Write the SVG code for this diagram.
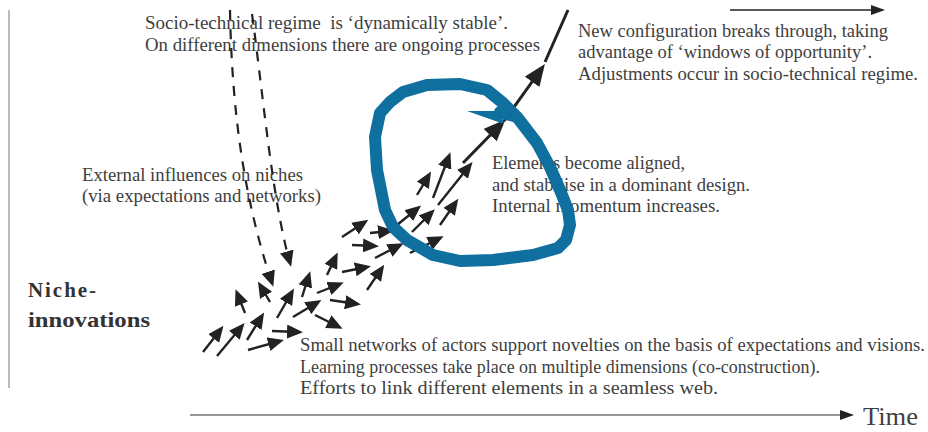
<svg xmlns="http://www.w3.org/2000/svg" width="928" height="432" viewBox="0 0 928 432">
<style>
  .t { font-family: "Liberation Serif", "Times New Roman", serif; font-size: 18px; fill: #404040; }
  .b { font-family: "Liberation Serif", "Times New Roman", serif; font-size: 21px; font-weight: bold; fill: #333; }
  .sa { stroke: #222; stroke-width: 2.4; fill: none; marker-end: url(#ah); }
  .ba { stroke: #222; stroke-width: 3; fill: none; marker-end: url(#bh); }
  .da { stroke: #222; stroke-width: 2.2; fill: none; stroke-dasharray: 10 9; marker-end: url(#ah); }
</style>
<defs>
  <marker id="ah" markerUnits="userSpaceOnUse" markerWidth="16" markerHeight="14" viewBox="0 0 16 14" refX="12" refY="7" orient="auto">
    <path d="M0,0 L16,7 L0,14 z" fill="#222"/>
  </marker>
  <marker id="bh" markerUnits="userSpaceOnUse" markerWidth="22" markerHeight="18" viewBox="0 0 22 18" refX="17" refY="9" orient="auto">
    <path d="M0,0 L22,9 L0,18 z" fill="#222"/>
  </marker>
  <marker id="th" markerUnits="userSpaceOnUse" markerWidth="14" markerHeight="10" viewBox="0 0 14 10" refX="12" refY="5" orient="auto">
    <path d="M0,0 L14,5 L0,10 z" fill="#222"/>
  </marker>
</defs>
<rect width="928" height="432" fill="#fff"/>

<g id="axes">
  <line x1="9" y1="10" x2="9" y2="388" stroke="#aaa" stroke-width="1.6"/>
  <line x1="190" y1="415" x2="852" y2="415" stroke="#777" stroke-width="1.5" marker-end="url(#th)"/>
  <text class="t" x="863" y="425" style="font-size:25px" textLength="55" lengthAdjust="spacingAndGlyphs">Time</text>
</g>

<g id="regime-label">
  <text class="t" x="145" y="29" xml:space="preserve" textLength="363" lengthAdjust="spacingAndGlyphs">Socio-technical regime  is ‘dynamically stable’.</text>
  <text class="t" x="145" y="51" textLength="395" lengthAdjust="spacingAndGlyphs">On different dimensions there are ongoing processes</text>
</g>

<g id="breakthrough-label">
  <text class="t" x="578" y="37" textLength="310" lengthAdjust="spacingAndGlyphs">New configuration breaks through, taking</text>
  <text class="t" x="578" y="58" textLength="294" lengthAdjust="spacingAndGlyphs">advantage of ‘windows of opportunity’.</text>
  <text class="t" x="578" y="80" textLength="340" lengthAdjust="spacingAndGlyphs">Adjustments occur in socio-technical regime.</text>
</g>

<g id="external-label">
  <text class="t" x="82" y="181" textLength="221" lengthAdjust="spacingAndGlyphs">External influences on niches</text>
  <text class="t" x="82" y="202" textLength="239" lengthAdjust="spacingAndGlyphs">(via expectations and networks)</text>
</g>

<g id="aligned-label">
  <text class="t" x="492" y="169" textLength="193" lengthAdjust="spacingAndGlyphs">Elements become aligned,</text>
  <text class="t" x="492" y="191" textLength="258" lengthAdjust="spacingAndGlyphs">and stabilise in a dominant design.</text>
  <text class="t" x="492" y="212" textLength="228" lengthAdjust="spacingAndGlyphs">Internal momentum increases.</text>
</g>

<g id="niche-label">
  <text class="b" x="28" y="297" textLength="68" lengthAdjust="spacing">Niche-</text>
  <text class="b" x="28" y="327" textLength="122" lengthAdjust="spacingAndGlyphs">innovations</text>
</g>

<g id="networks-label">
  <text class="t" x="300" y="351" textLength="625" lengthAdjust="spacingAndGlyphs">Small networks of actors support novelties on the basis of expectations and visions.</text>
  <text class="t" x="300" y="373" textLength="520" lengthAdjust="spacingAndGlyphs">Learning processes take place on multiple dimensions (co-construction).</text>
  <text class="t" x="300" y="394" textLength="418" lengthAdjust="spacingAndGlyphs">Efforts to link different elements in a seamless web.</text>
</g>

<g id="connectors">
  <path class="da" d="M230,10 C232,120 246,205 272,283"/>
  <path class="da" d="M252,14 C262,85 272,200 290,263"/>

  <line class="sa" x1="203" y1="352" x2="221" y2="329"/>
  <line class="sa" x1="217" y1="356" x2="242" y2="326"/>
  <line class="sa" x1="247" y1="340" x2="262" y2="316"/>
  <line class="sa" x1="248" y1="350" x2="280" y2="341"/>
  <line class="sa" x1="272" y1="331" x2="299" y2="332"/>
  <line class="sa" x1="245" y1="313" x2="237" y2="293"/>
  <line class="sa" x1="270" y1="302" x2="260" y2="285"/>
  <line class="sa" x1="277" y1="318" x2="292" y2="292"/>
  <line class="sa" x1="302" y1="297" x2="309" y2="275"/>
  <line class="sa" x1="293" y1="317" x2="318" y2="302"/>
  <line class="sa" x1="315" y1="315" x2="339" y2="327"/>
  <line class="sa" x1="317" y1="293" x2="340" y2="284"/>
  <line class="sa" x1="330" y1="300" x2="357" y2="304"/>
  <line class="sa" x1="327" y1="275" x2="336" y2="256"/>
  <line class="sa" x1="342" y1="237" x2="365" y2="222"/>
  <line class="sa" x1="370" y1="233" x2="390" y2="231"/>
  <line class="sa" x1="352" y1="245" x2="375" y2="246"/>
  <line class="sa" x1="375" y1="258" x2="400" y2="245"/>
  <line class="sa" x1="342" y1="272" x2="367" y2="267"/>
  <line class="sa" x1="367" y1="290" x2="382" y2="268"/>
  <line class="sa" x1="397" y1="225" x2="418" y2="208"/>
  <line class="sa" x1="412" y1="232" x2="432" y2="212"/>
  <line class="sa" x1="410" y1="253" x2="440" y2="238"/>
  <line class="sa" x1="440" y1="225" x2="456" y2="202"/>
  <line class="sa" x1="417" y1="195" x2="429" y2="175"/>
  <line class="sa" x1="433" y1="198" x2="449" y2="156"/>
  <line class="sa" x1="438" y1="205" x2="470" y2="165"/>

  <line class="ba" x1="463" y1="163" x2="502" y2="123"/>
  <line class="ba" x1="504" y1="121" x2="542" y2="68"/>
  <line x1="545" y1="62" x2="568" y2="10" stroke="#222" stroke-width="3"/>

  <line x1="730" y1="10" x2="883" y2="10" stroke="#222" stroke-width="1.5" marker-end="url(#th)"/>
</g>

<g id="loop">
  <path d="M500,112 L517,117 L527,130 L537,143 L550,167 L560,190 L568,210 L570,225 L566,240 L558,248 L533,255 L493,260 L460,261 L433,255 L407,240 L393,227 L385,210 L377,170 L375,137 L380,113 L390,102 L403,92 L427,85 L460,84 L487,90 L503,103 L517,117 L527,130" fill="none" stroke="#0f6f9f" stroke-width="12" stroke-linejoin="round" stroke-linecap="round"/>
  <polygon points="467,111 500,111 504,124" fill="#0f6f9f"/>
</g>
</svg>
